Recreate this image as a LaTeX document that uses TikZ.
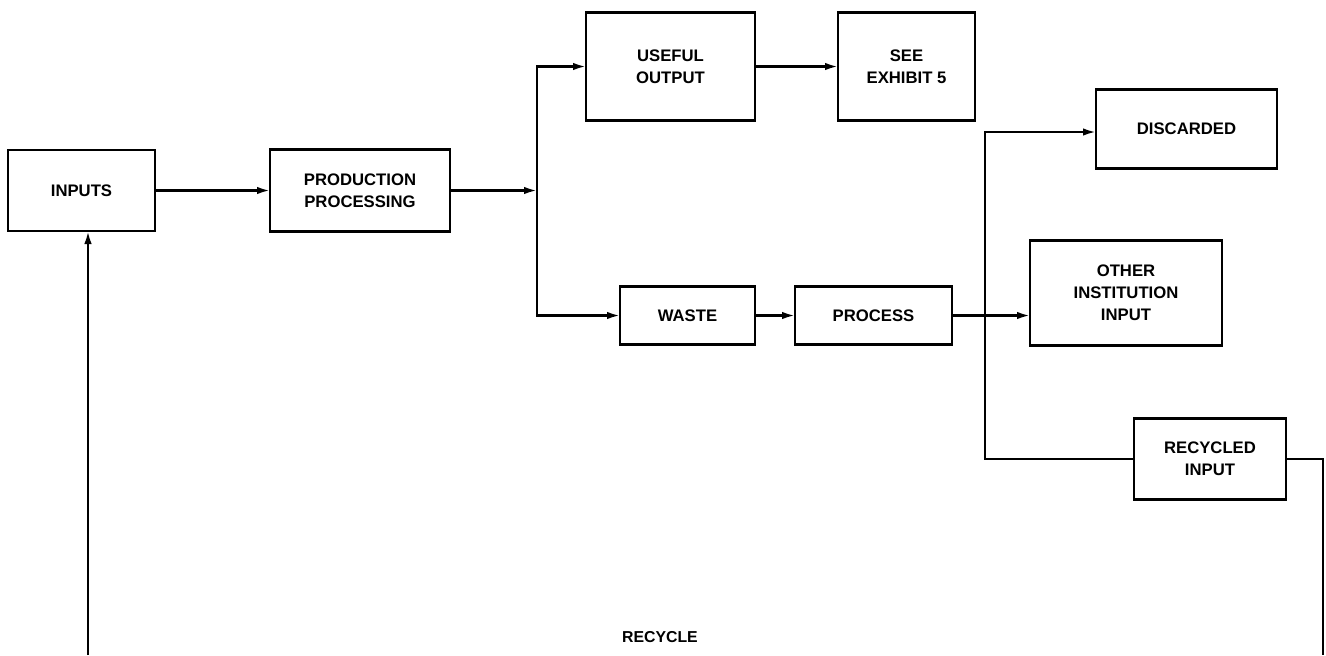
\documentclass[tikz,border=0pt]{standalone}
\usepackage{fontspec}
\setmainfont{Liberation Sans}
\usepackage{tikz}
\usetikzlibrary{arrows.meta, positioning}

\begin{document}
\begin{tikzpicture}[
    block/.style={rectangle, draw=black, line width=1.4pt, fill=white,
                  inner sep=2pt, outer sep=0pt, align=center,
                  font=\bfseries\fontsize{9.5}{12.5}\selectfont},
    link/.style={-{Latex[length=2.6mm, width=1.5mm]}, line width=1.3pt},
    line/.style={line width=1.3pt},
]
\useasboundingbox (0,0) rectangle (26.52,-13.1);

% Main chain
\node[block, minimum width=2.94cm, minimum height=1.62cm] (inputs) at (1.63,-3.81) {INPUTS};
\node[block, minimum width=3.6cm, minimum height=1.64cm,
      right=2.3cm of inputs] (prod) {PRODUCTION\\PROCESSING};

% Upper branch
\node[block, minimum width=3.38cm, minimum height=2.16cm,
      right=2.72cm of prod, yshift=2.48cm] (useful) {USEFUL\\OUTPUT};
\node[block, minimum width=2.74cm, minimum height=2.16cm,
      right=1.66cm of useful] (exhibit) {SEE\\EXHIBIT 5};

% Lower branch
\node[block, minimum width=2.7cm, minimum height=1.16cm,
      right=3.4cm of prod, yshift=-2.5cm] (waste) {WASTE};
\node[block, minimum width=3.14cm, minimum height=1.16cm,
      right=0.8cm of waste] (process) {PROCESS};

% Outcomes
\node[block, minimum width=3.84cm, minimum height=2.1cm,
      right=1.56cm of process, yshift=0.45cm] (other) {OTHER\\INSTITUTION\\INPUT};
\node[block, minimum width=3.62cm, minimum height=1.58cm,
      above=1.44cm of other, xshift=1.21cm] (discarded) {DISCARDED};
\node[block, minimum width=3.04cm, minimum height=1.62cm,
      below=1.46cm of other, xshift=1.68cm] (recycled) {RECYCLED\\INPUT};

% Junctions and loop ends
\coordinate[right=1.74cm of prod] (split1);
\coordinate[right=0.66cm of process] (split2);
\coordinate (lbottom) at (1.76,-13.1);
\coordinate (rbottom) at (26.46,-13.1);

\node[font=\bfseries\fontsize{9}{11}\selectfont] (recycle) at (13.2,-12.74) {RECYCLE};

\draw[link] (inputs) -- (prod);
\draw[link] (prod) -- (split1);
\draw[link] (split1) |- (useful);
\draw[link] (split1) |- (waste);
\draw[link] (useful) -- (exhibit);
\draw[link] (waste) -- (process);

\draw[link] (process) -- (process.east -| other.west);
\draw[link] (split2) |- ([yshift=-0.06cm]discarded.west);
\draw[line] (split2) |- (recycled);

\draw[line] (recycled.east) -| (rbottom);
\draw[link] (lbottom) -- (lbottom |- inputs.south);

\end{tikzpicture}
\end{document}
